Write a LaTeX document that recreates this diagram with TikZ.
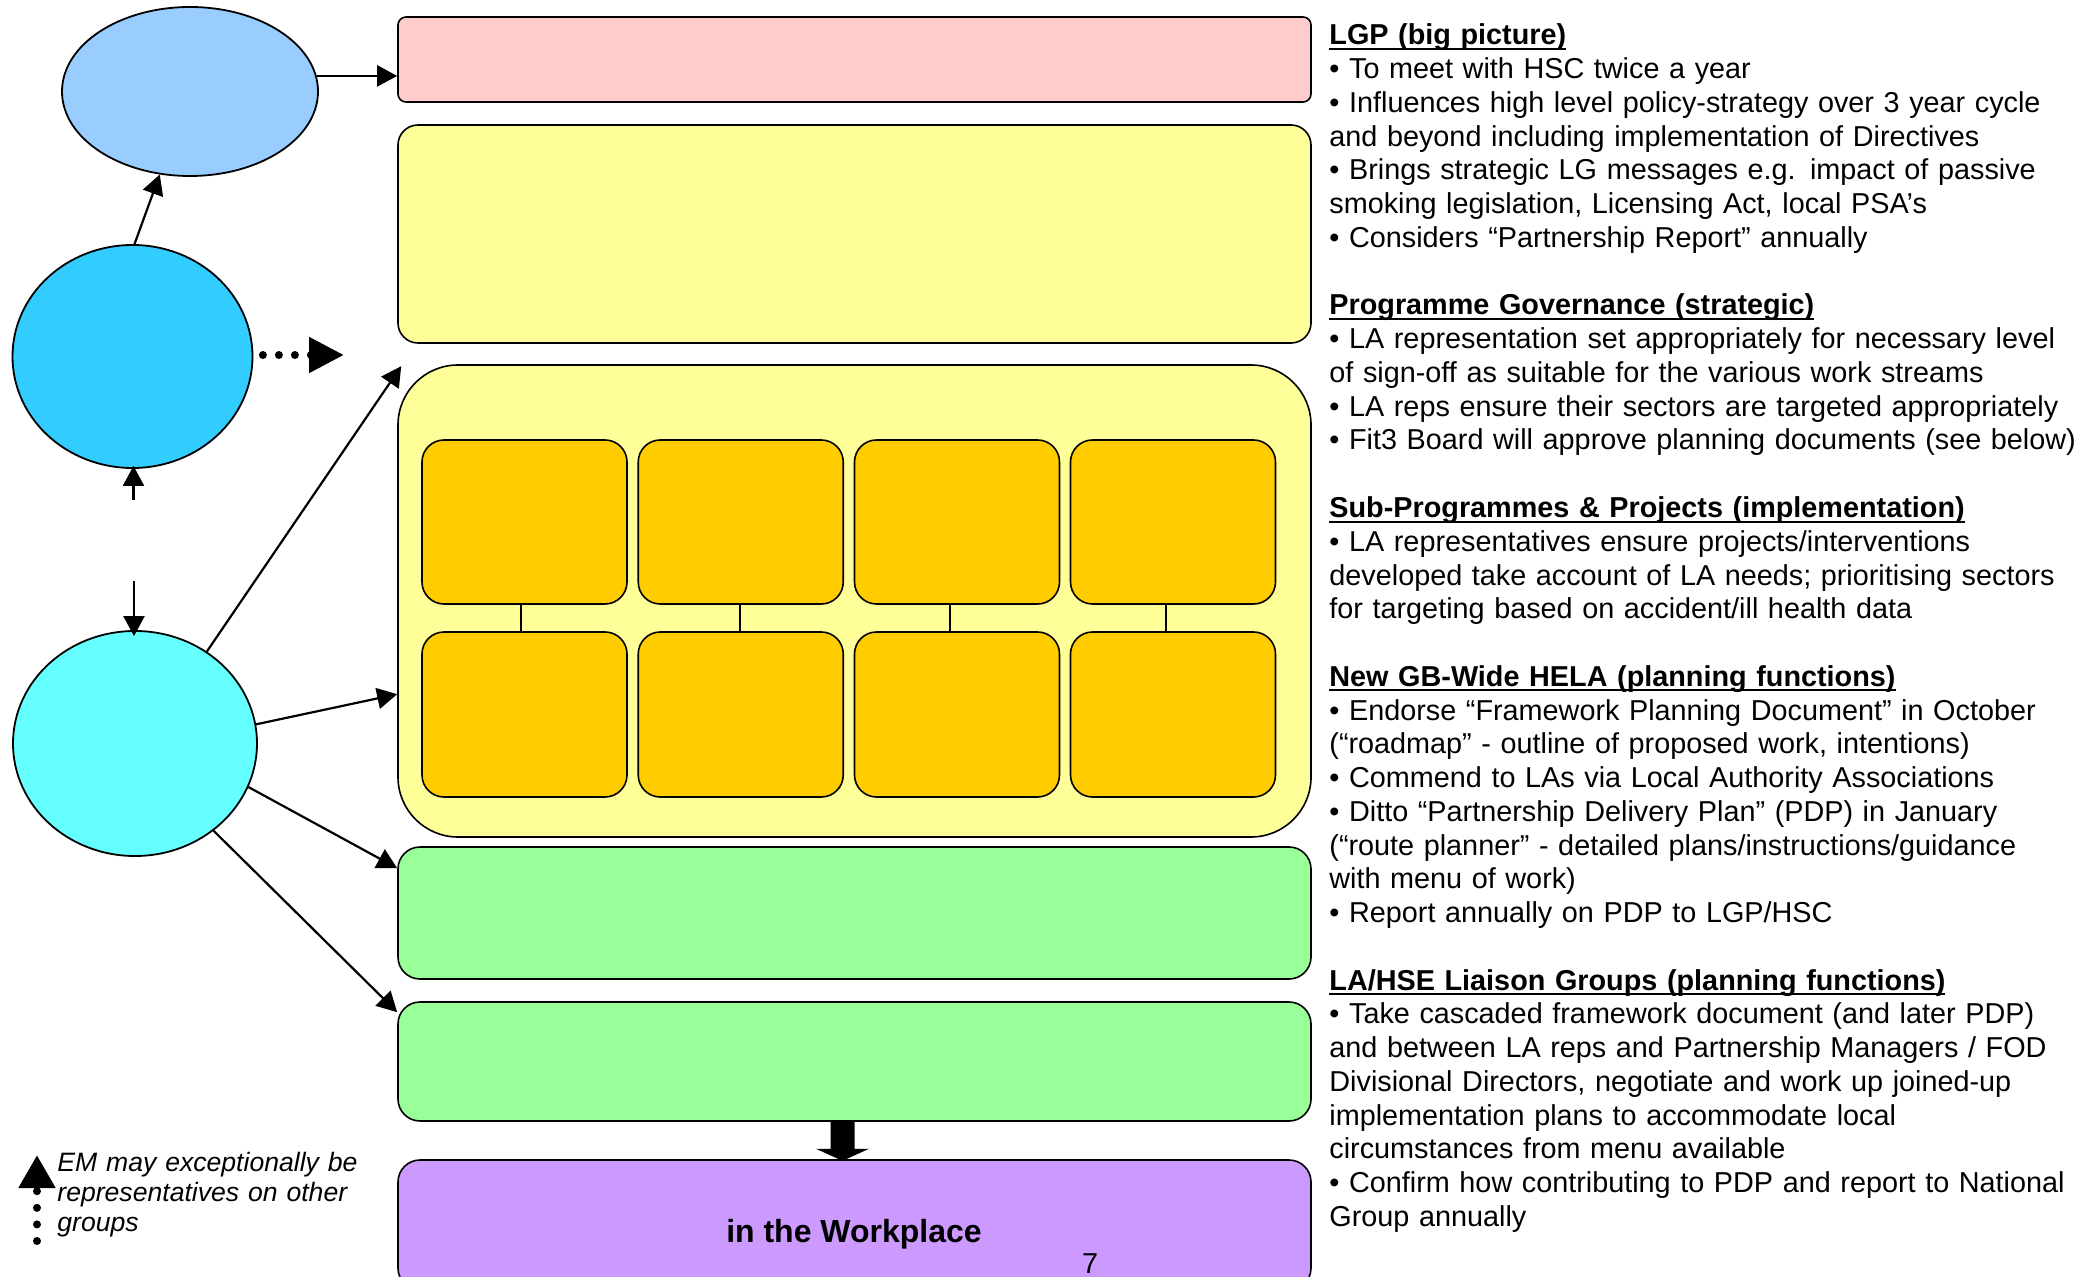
\documentclass[tikz,border=0pt]{standalone}
\usepackage{fontspec}
\setmainfont{Liberation Sans}
\usetikzlibrary{arrows.meta,shapes.geometric,calc}
\definecolor{cpink}{HTML}{FFCCCC}
\definecolor{cyel}{HTML}{FFFF99}
\definecolor{corange}{HTML}{FFCC00}
\definecolor{cgreen}{HTML}{99FF99}
\definecolor{cpurple}{HTML}{CC99FF}
\definecolor{ceone}{HTML}{99CCFF}
\definecolor{cctwo}{HTML}{33CCFF}
\definecolor{cethree}{HTML}{66FFFF}
\newcommand\myul[1]{\setbox0=\hbox{#1}\rlap{\rule[-2.6pt]{\wd0}{1.05pt}}\box0}
\tikzset{
  ell/.style={ellipse, draw, line width=0.9pt, inner sep=0pt},
  box/.style={rectangle, draw, line width=0.8pt, inner sep=0pt, minimum width=456.5pt},
  obox/.style={rectangle, draw, line width=0.8pt, inner sep=0pt, fill=corange, rounded corners=11pt, minimum width=102.5pt},
  link/.style={line width=0.6pt},
  arr/.style={line width=1.1pt, -{Triangle[length=10pt,width=10.5pt]}},
  dotarr/.style={line width=4pt, line cap=round, dash pattern=on 0pt off 8pt, -{Triangle[length=17.5pt,width=17pt]}},
  legarr/.style={line width=4pt, line cap=round, dash pattern=on 0pt off 8.3pt, -{Triangle[length=16.5pt,width=17.5pt]}},
  notes/.style={anchor=base west, inner sep=0pt, text width=390pt, align=left, font=\fontsize{14.4}{16.875}\selectfont},
}
\begin{document}
\begin{tikzpicture}[x=0.5pt,y=-0.5pt]
\useasboundingbox (0,0) rectangle (2096,1277);
\clip (0,0) rectangle (2096,1277);
\fill[white] (0,0) rectangle (2096,1277);

% ellipses
\node[ell, fill=ceone, minimum width=128pt, minimum height=84.5pt] (e1) at (190,91.5) {};
\node[ell, fill=cctwo, minimum width=120pt, minimum height=111.5pt] (c2) at (132.5,356.5) {};
\node[ell, fill=cethree, minimum width=122pt, minimum height=112.5pt] (e3) at (135,743.5) {};

% boxes
\node[box, fill=cpink, rounded corners=4pt, minimum height=42.5pt] (lgp) at (854.5,59.5) {};
\node[box, fill=cyel, rounded corners=10pt, minimum height=109pt] (pg) at (854.5,234) {};
\node[box, fill=cyel, rounded corners=30pt, minimum height=236pt] (sp) at (854.5,601) {};
\node[box, fill=cgreen, rounded corners=11pt, minimum height=66pt] (hela) at (854.5,913) {};
\node[box, fill=cgreen, rounded corners=11pt, minimum height=59.5pt] (liaison) at (854.5,1061.5) {};
\node[box, fill=cpurple, rounded corners=11pt, minimum height=65pt] (work) at (854.5,1225) {};

% orange project boxes
\node[obox, minimum height=82pt] (t1) at (524.5,522) {};
\node[obox, minimum height=82pt] (t2) at (740.75,522) {};
\node[obox, minimum height=82pt] (t3) at (957,522) {};
\node[obox, minimum height=82pt] (t4) at (1173,522) {};
\node[obox, minimum height=82.5pt] (b1) at (524.5,714.5) {};
\node[obox, minimum height=82.5pt] (b2) at (740.75,714.5) {};
\node[obox, minimum height=82.5pt] (b3) at (957,714.5) {};
\node[obox, minimum height=82.5pt] (b4) at (1173,714.5) {};
\draw[link] ([xshift=-1.75pt]t1.south) -- ([xshift=-1.75pt]b1.north);
\draw[link] ([xshift=-0.4pt]t2.south) -- ([xshift=-0.4pt]b2.north);
\draw[link] ([xshift=-3.5pt]t3.south) -- ([xshift=-3.5pt]b3.north);
\draw[link] ([xshift=-3.5pt]t4.south) -- ([xshift=-3.5pt]b4.north);

% connectors
\draw[arr] (e1.7.5) -- (e1.7.5 -| lgp.west);
\draw[arr] ([xshift=1pt]c2.north) -- (e1.250);
\coordinate (dt) at (344,355);
\draw[dotarr] ([xshift=4.75pt]c2.east |- dt) -- (dt);
\coordinate (s1) at (133.5,500);
\draw[arr] (s1) -- ($(s1 |- c2.south)+(0,-3)$);
\coordinate (s2) at (134,581);
\draw[arr] (s2) -- ($(s2 |- e3.north)+(0,6)$);
\draw[arr] (e3.52) -- ([xshift=2pt,yshift=-1pt]sp.north west);
\draw[arr] (e3.9) -- ($(sp.north west)+(0,330)$);
\draw[arr] (e3.339) -- ($(hela.north west)+(0,22)$);
\draw[arr] (e3.312) -- ($(liaison.north west)+(0,11)$);

% block arrow
\fill ($(liaison.south)+(-24,0)$) -- ++(24,0) -- ++(0,27) -- ++(14.5,0) -- ++(-26.5,12) -- ++(-26.5,-12) -- ++(14.5,0) -- cycle;

% texts in bottom box
\node[anchor=base, inner sep=0pt, font=\bfseries\fontsize{16}{19}\selectfont] (wtxt) at (854,1242) {in the Workplace};
\node[anchor=base, inner sep=0pt, font=\fontsize{14.4}{16.875}\selectfont] (pnum) at (1090,1273) {7};

% legend
\coordinate (lg) at (37,1241);
\coordinate (lgt) at (37,1155);
\draw[legarr] (lg) -- (lgt);
\node[anchor=base west, inner sep=0pt, text width=160pt, align=left, font=\itshape\fontsize{13.3}{15}\selectfont] (legend) at (57,1171.5) {EM may exceptionally be\\representatives on other\\groups};

% notes
\node[notes] (n1) at (1329,45) {\myul{\textbf{LGP (big picture)}}\\
• To meet with HSC twice a year\\
• Influences high level policy-strategy over 3 year cycle\\
and beyond including implementation of Directives\\
• Brings strategic LG messages e.g. impact of passive\\
smoking legislation, Licensing Act, local PSA’s\\
• Considers “Partnership Report” annually};
\node[notes] (n2) at (1329,315) {\myul{\textbf{Programme Governance (strategic)}}\\
• LA representation set appropriately for necessary level\\
of sign-off as suitable for the various work streams\\
• LA reps ensure their sectors are targeted appropriately\\
• Fit3 Board will approve planning documents (see below)};
\node[notes] (n3) at (1329,517.5) {\myul{\textbf{Sub-Programmes \& Projects (implementation)}}\\
• LA representatives ensure projects/interventions\\
developed take account of LA needs; prioritising sectors\\
for targeting based on accident/ill health data};
\node[notes] (n4) at (1329,686.25) {\myul{\textbf{New GB-Wide HELA (planning functions)}}\\
• Endorse “Framework Planning Document” in October\\
(“roadmap” - outline of proposed work, intentions)\\
• Commend to LAs via Local Authority Associations\\
• Ditto “Partnership Delivery Plan” (PDP) in January\\
(“route planner” - detailed plans/instructions/guidance\\
with menu of work)\\
• Report annually on PDP to LGP/HSC};
\node[notes] (n5) at (1329,990) {\myul{\textbf{LA/HSE Liaison Groups (planning functions)}}\\
• Take cascaded framework document (and later PDP)\\
and between LA reps and Partnership Managers / FOD\\
Divisional Directors, negotiate and work up joined-up\\
implementation plans to accommodate local\\
circumstances from menu available\\
• Confirm how contributing to PDP and report to National\\
Group annually};
\end{tikzpicture}
\end{document}
